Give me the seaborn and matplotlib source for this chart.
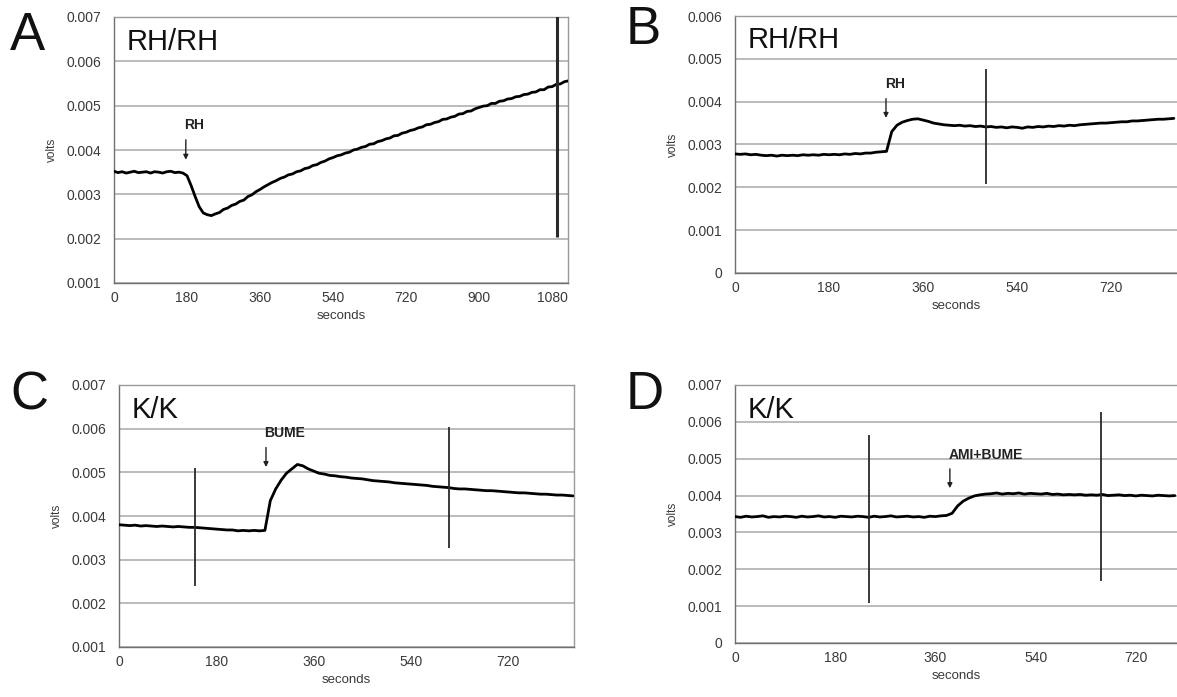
import numpy as np
import matplotlib
matplotlib.use("Agg")
import matplotlib.pyplot as plt
import seaborn as sns

# ------------------------------------------
# Data: recorded voltage traces (mV, one sample every 10 s)
# ------------------------------------------
SAMPLE_STEP = 10

trace_a_mv = [
    3.52, 3.49, 3.51, 3.48, 3.50, 3.52, 3.49, 3.50, 3.51, 3.48, 3.51, 3.50, 3.48, 3.51, 3.52, 3.49, 3.50, 3.48,
    3.42, 3.20, 2.95, 2.72, 2.58, 2.54, 2.52, 2.56, 2.59, 2.66, 2.69, 2.75, 2.78, 2.84, 2.87, 2.95, 2.99, 3.06,
    3.11, 3.17, 3.22, 3.27, 3.31, 3.36, 3.39, 3.44, 3.46, 3.51, 3.53, 3.58, 3.60, 3.65, 3.67, 3.72, 3.75, 3.80,
    3.83, 3.87, 3.89, 3.93, 3.95, 4.00, 4.02, 4.06, 4.08, 4.13, 4.14, 4.19, 4.21, 4.25, 4.27, 4.32, 4.33, 4.38,
    4.40, 4.44, 4.46, 4.50, 4.52, 4.57, 4.58, 4.62, 4.64, 4.69, 4.70, 4.74, 4.76, 4.81, 4.82, 4.87, 4.88, 4.93,
    4.96, 4.99, 5.00, 5.05, 5.05, 5.10, 5.11, 5.15, 5.16, 5.20, 5.21, 5.25, 5.26, 5.30, 5.31, 5.36, 5.36, 5.42,
    5.43, 5.48, 5.49, 5.54, 5.56,
]

trace_b_mv = [
    2.78, 2.77, 2.78, 2.76, 2.77, 2.75, 2.74, 2.75, 2.73, 2.75, 2.74, 2.75, 2.74, 2.76, 2.75,
    2.76, 2.75, 2.77, 2.76, 2.77, 2.76, 2.78, 2.77, 2.79, 2.78, 2.80, 2.80, 2.82, 2.83, 2.84,
    3.30, 3.45, 3.52, 3.56, 3.59, 3.60, 3.57, 3.54, 3.50, 3.48, 3.46, 3.45, 3.44, 3.45, 3.43,
    3.44, 3.42, 3.43, 3.41, 3.42, 3.40, 3.41, 3.39, 3.41, 3.40, 3.38, 3.41, 3.40, 3.42, 3.41,
    3.43, 3.42, 3.44, 3.43, 3.45, 3.44, 3.46, 3.47, 3.48, 3.49, 3.50, 3.50, 3.51, 3.52, 3.53,
    3.53, 3.55, 3.55, 3.56, 3.57, 3.58, 3.59, 3.59, 3.60, 3.61,
]

trace_c_mv = [
    3.80, 3.79, 3.78, 3.79, 3.77, 3.78, 3.77, 3.76, 3.77, 3.76, 3.75, 3.76, 3.75, 3.74, 3.74,
    3.73, 3.72, 3.71, 3.70, 3.69, 3.68, 3.68, 3.66, 3.67, 3.66, 3.67, 3.66, 3.67,
    4.35, 4.62, 4.82, 4.98, 5.08, 5.18, 5.15, 5.08, 5.03, 4.98, 4.96, 4.93, 4.92, 4.90, 4.89,
    4.87, 4.86, 4.85, 4.83, 4.81, 4.80, 4.79, 4.78, 4.76, 4.75, 4.74, 4.73, 4.72, 4.71, 4.70,
    4.68, 4.67, 4.66, 4.65, 4.63, 4.62, 4.62, 4.61, 4.60, 4.59, 4.58, 4.58, 4.57, 4.56, 4.55,
    4.54, 4.53, 4.53, 4.52, 4.51, 4.50, 4.50, 4.49, 4.48, 4.48, 4.47, 4.46,
]

trace_d_mv = [
    3.43, 3.41, 3.44, 3.42, 3.43, 3.45, 3.41, 3.43, 3.42, 3.44, 3.43, 3.41, 3.44, 3.42, 3.43,
    3.45, 3.42, 3.43, 3.41, 3.44, 3.43, 3.42, 3.44, 3.43, 3.41, 3.44, 3.42, 3.43, 3.45, 3.42,
    3.43, 3.44, 3.42, 3.43, 3.41, 3.44, 3.43, 3.45, 3.46,
    3.52, 3.72, 3.85, 3.93, 3.99, 4.02, 4.04, 4.05, 4.07, 4.04, 4.06, 4.05, 4.07, 4.04, 4.06,
    4.05, 4.04, 4.06, 4.03, 4.04, 4.02, 4.03, 4.02, 4.03, 4.01, 4.02, 4.01, 4.03, 4.00, 4.01,
    4.02, 4.00, 4.01, 3.99, 4.01, 4.00, 3.99, 4.01, 4.00, 3.99, 4.00,
]

# electrode artefact spikes: (seconds, low V, high V)
spikes_a = [(1091, 0.00203, 0.00710)]
spikes_b = [(481, 0.00207, 0.00476)]
spikes_c = [(141, 0.00240, 0.00510), (611, 0.00327, 0.00604)]
spikes_d = [(241, 0.00109, 0.00565), (657, 0.00169, 0.00627)]

# drug additions: (label, seconds, arrow tip V)
event_a = ("RH", 177, 0.00378)
event_b = ("RH", 289, 0.00362)
event_c = ("BUME", 272, 0.00512)
event_d = ("AMI+BUME", 386, 0.00420)

panels = [
    # letter, condition, trace, spikes, event, xlim, ylim, xticks, axes box (px: left, top, right, bottom)
    ("A", "RH/RH", trace_a_mv, spikes_a, event_a, 1119, (0.001, 0.007), [0, 180, 360, 540, 720, 900, 1080], (114, 17, 568, 283)),
    ("B", "RH/RH", trace_b_mv, spikes_b, event_b, 846, (0.0, 0.006), [0, 180, 360, 540, 720], (735, 16, 1177, 273)),
    ("C", "K/K", trace_c_mv, spikes_c, event_c, 842, (0.001, 0.007), [0, 180, 360, 540, 720], (119, 385, 574, 647)),
    ("D", "K/K", trace_d_mv, spikes_d, event_d, 794, (0.0, 0.007), [0, 180, 360, 540, 720], (735, 385, 1177, 643)),
]

# ------------------------------------------
# Plot
# ------------------------------------------
sns.set_style("white")
plt.rcParams['font.family'] = ['Liberation Sans', 'DejaVu Sans']

W, H = 1177, 697
fig = plt.figure(figsize=(W / 100, H / 100), dpi=100)

grid_col = "#a8a8a8"
frame_col = "#9a9a9a"
text_col = "#3a3a3a"

for letter, cond, trace, spikes, event, xmax, ylim, xticks, box in panels:
    l, t, r, b = box
    ax = fig.add_axes([l / W, 1 - b / H, (r - l) / W, (b - t) / H])
    yspan = ylim[1] - ylim[0]

    volts = np.array(trace) / 1000.0
    secs = np.arange(len(volts)) * SAMPLE_STEP
    sns.lineplot(x=secs, y=volts, ax=ax, color="black", linewidth=2.0, zorder=3)

    for sx, lo, hi in spikes:
        lw = 2.2 if letter == "A" else 1.3
        ax.vlines(sx, lo, hi, color="#2a2a2a", linewidth=lw, zorder=4)

    # drug addition: small down arrow with label above it
    label, ex, ey = event
    tail = ey + yspan * 0.075
    ax.annotate("", xy=(ex, ey), xytext=(ex, tail),
                arrowprops=dict(arrowstyle="-|>", color="#222222", lw=1.0,
                                mutation_scale=7, shrinkA=0, shrinkB=0))
    ax.text(ex - xmax * 0.003, tail + yspan * 0.028, label, ha="left", va="bottom",
            fontsize=10, color="#222222", fontweight="bold",
            family=["Liberation Sans Narrow", "Liberation Sans", "DejaVu Sans"])

    ax.set_xlim(0, xmax)
    ax.set_ylim(*ylim)
    yt = np.arange(ylim[0], ylim[1] + 1e-9, 0.001)
    ax.set_yticks(yt)
    ax.set_yticklabels(["0" if abs(v) < 1e-9 else f"{v:.3f}" for v in yt])
    ax.set_xticks(xticks)
    ax.set_xticklabels([str(x) for x in xticks])
    ax.yaxis.grid(True, color=grid_col, linewidth=1.1)
    ax.xaxis.grid(False)
    ax.set_axisbelow(True)

    ax.tick_params(axis="both", labelsize=10, colors=text_col, length=3,
                   width=0.8, direction="inout", pad=4)
    ax.tick_params(axis="y", length=4, direction="out", pad=5)
    for side in ["top", "right", "left", "bottom"]:
        ax.spines[side].set_color(frame_col)
        ax.spines[side].set_linewidth(1.0)
    ax.spines["left"].set_color("#707070")
    ax.spines["bottom"].set_color("#707070")
    if letter in ("B", "D"):
        ax.spines["right"].set_visible(False)

    ax.set_xlabel("seconds", fontsize=9.5, color=text_col, labelpad=4)
    ax.set_ylabel("volts", fontsize=8.5, color=text_col, labelpad=6)

    ax.text(0.028, 0.905, cond, transform=ax.transAxes, fontsize=21,
            ha="left", va="center", color="#111111")

    lx = 10 if letter in ("A", "C") else 626
    ly = {"A": 36, "B": 30, "C": 395, "D": 395}[letter]
    fig.text(lx / W, 1 - ly / H, letter, fontsize=38, ha="left", va="center",
             color="#111111")

fig.savefig("out.png", dpi=100, facecolor="white")
